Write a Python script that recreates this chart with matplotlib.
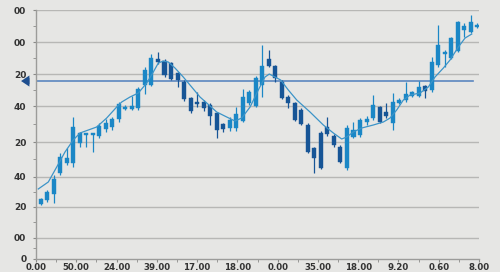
import numpy as np
import matplotlib
matplotlib.use("Agg")
import matplotlib.pyplot as plt

# candle data (open, high, low, close) and direction
opens = [55, 59, 65, 86, 96, 96, 116, 124, 124, 123, 130, 132, 140, 150, 150, 151, 174, 174,
         200, 198, 196, 186, 177, 161, 157, 157, 154, 146, 135, 131, 131, 138, 156, 153, 174,
         200, 193, 177, 162, 156, 149, 134, 111, 126, 132, 123, 112, 91, 122, 124, 137, 141,
         152, 147, 136, 156, 159, 163, 163, 173, 169, 194, 205, 201, 208, 229, 227, 232]
closes = [60, 67, 80, 102, 101, 132, 126, 126, 126, 133, 136, 140, 155, 152, 153, 170, 189, 201,
          197, 184, 180, 179, 160, 148, 155, 151, 143, 129, 130, 139, 145, 162, 167, 181, 193,
          193, 181, 161, 156, 139, 135, 107, 101, 91, 125, 114, 97, 131, 129, 139, 140, 154,
          137, 143, 157, 159, 165, 167, 172, 168, 197, 214, 207, 221, 237, 233, 237, 234]
highs = [61, 69, 84, 106, 111, 142, 127, 126, 126, 136, 140, 142, 157, 154, 163, 172, 192, 205,
         207, 200, 197, 187, 179, 162, 167, 159, 156, 147, 136, 142, 152, 170, 169, 183, 214,
         209, 194, 179, 164, 157, 151, 136, 112, 128, 142, 125, 114, 134, 137, 141, 143, 164,
         153, 156, 166, 161, 177, 168, 178, 174, 202, 234, 209, 222, 238, 236, 244, 236]
lows = [54, 57, 56, 84, 94, 92, 112, 112, 107, 121, 127, 129, 137, 149, 149, 149, 165, 173,
        195, 182, 179, 172, 158, 146, 152, 148, 134, 121, 127, 128, 128, 137, 154, 152, 162,
        192, 177, 160, 151, 138, 134, 106, 86, 90, 123, 112, 96, 89, 121, 122, 134, 139,
        136, 141, 129, 155, 157, 162, 162, 161, 167, 192, 192, 200, 207, 222, 226, 231]

# moving average (x in candle index units, value)
ma_x = [-0.37, 1.17, 2.46, 3.73, 5.0, 6.03, 7.31, 8.59, 10.13, 11.66, 12.43, 13.7, 14.98, 16.27,
        17.28, 18.05, 18.82, 19.58, 20.61, 21.88, 23.17, 24.45, 25.48, 27.01, 28.55, 29.82,
        30.85, 32.13, 33.39, 34.42, 35.08, 35.96, 36.83, 38.0, 39.29, 41.33, 43.37, 44.91,
        46.19, 46.96, 47.97, 49.26, 51.04, 52.58, 53.61, 54.63, 55.65, 56.68, 58.21, 59.48,
        60.51, 61.79, 62.81, 64.09, 65.12, 66.14]
ma_y = [70, 77, 92, 107, 119, 126, 129, 132, 141, 152, 157, 162, 166, 176, 187, 196, 198, 197,
        191, 182, 172, 162, 156, 147, 142, 138, 141, 152, 169, 182, 185, 182, 179, 169, 159,
        147, 134, 126, 120, 122, 127, 131, 134, 137, 141, 149, 159, 164, 166, 172, 182, 191,
        199, 212, 221, 225]

level = 178
ytick_vals = [0, 21, 52, 82, 117, 153, 185, 217, 249]
ytick_labels = ["0", "00", "20", "40", "20", "40", "20", "00", "00"]
xtick_labels = ["0.00", "50.00", "24.00", "39.00", "17.00", "18.00", "0.00", "35.00",
                "18.00", "9.20", "0.60", "8.00"]

BG = "#e6e6e4"
LIGHT = "#1b87c6"
DARK = "#175596"

fig = plt.figure(figsize=(5, 2.72), dpi=100, facecolor=BG)
ax = fig.add_axes([0.072, 0.048, 0.886, 0.915], facecolor=BG)

n = len(opens)
x = np.arange(n)
o = np.array(opens); c = np.array(closes)
up = c >= o
cols = np.where(up, LIGHT, DARK)

for yv in ytick_vals[1:]:
    ax.axhline(yv, color="#b7b7b5", lw=1.0, zorder=0)

ax.vlines(x, lows, highs, colors=cols, lw=0.9, zorder=3)
bot = np.minimum(o, c)
hgt = np.maximum(np.abs(c - o), 1.5)
ax.bar(x, hgt, bottom=bot, width=0.62, color=cols, edgecolor=cols, lw=0.3, zorder=4)

ax.plot(ma_x, ma_y, color="#3c94c8", lw=0.9, zorder=5)

ax.axhline(level, xmin=0, xmax=0.986, color="#5b86bf", lw=1.2, zorder=2)
ax.annotate("", xy=(-0.04, level), xytext=(-0.008, level),
            xycoords=("axes fraction", "data"), textcoords=("axes fraction", "data"),
            arrowprops=dict(arrowstyle="simple,head_length=0.6,head_width=0.8,tail_width=0.45",
                            color="#1f4f8f", lw=0), annotation_clip=False)

ax.set_xlim(-0.72, 67.26)
ax.set_ylim(0, 249)
xl = ax.get_xlim()
major = np.linspace(xl[0], xl[1], 12)
ax.set_xticks(major)
ax.set_xticklabels(xtick_labels)
ax.set_xticks((major[:-1] + major[1:]) / 2, minor=True)
ax.set_yticks(ytick_vals)
ax.set_yticklabels(ytick_labels)
ax.set_yticks([(a + b) / 2 for a, b in zip(ytick_vals[:-1], ytick_vals[1:])], minor=True)

for s in ("top", "right"):
    ax.spines[s].set_visible(False)
for s in ("left", "bottom"):
    ax.spines[s].set_color("#9c9c9a")
    ax.spines[s].set_linewidth(1.0)

ax.tick_params(axis="x", which="both", length=2, color="#8a8a88", pad=1,
               labelsize=6.2, labelcolor="#333333")
ax.tick_params(axis="y", which="both", length=2, color="#8a8a88", pad=5,
               labelsize=6.5, labelcolor="#333333")
for t in ax.get_xticklabels() + ax.get_yticklabels():
    t.set_fontweight("bold")

fig.savefig("out.png", dpi=100, facecolor=BG)
